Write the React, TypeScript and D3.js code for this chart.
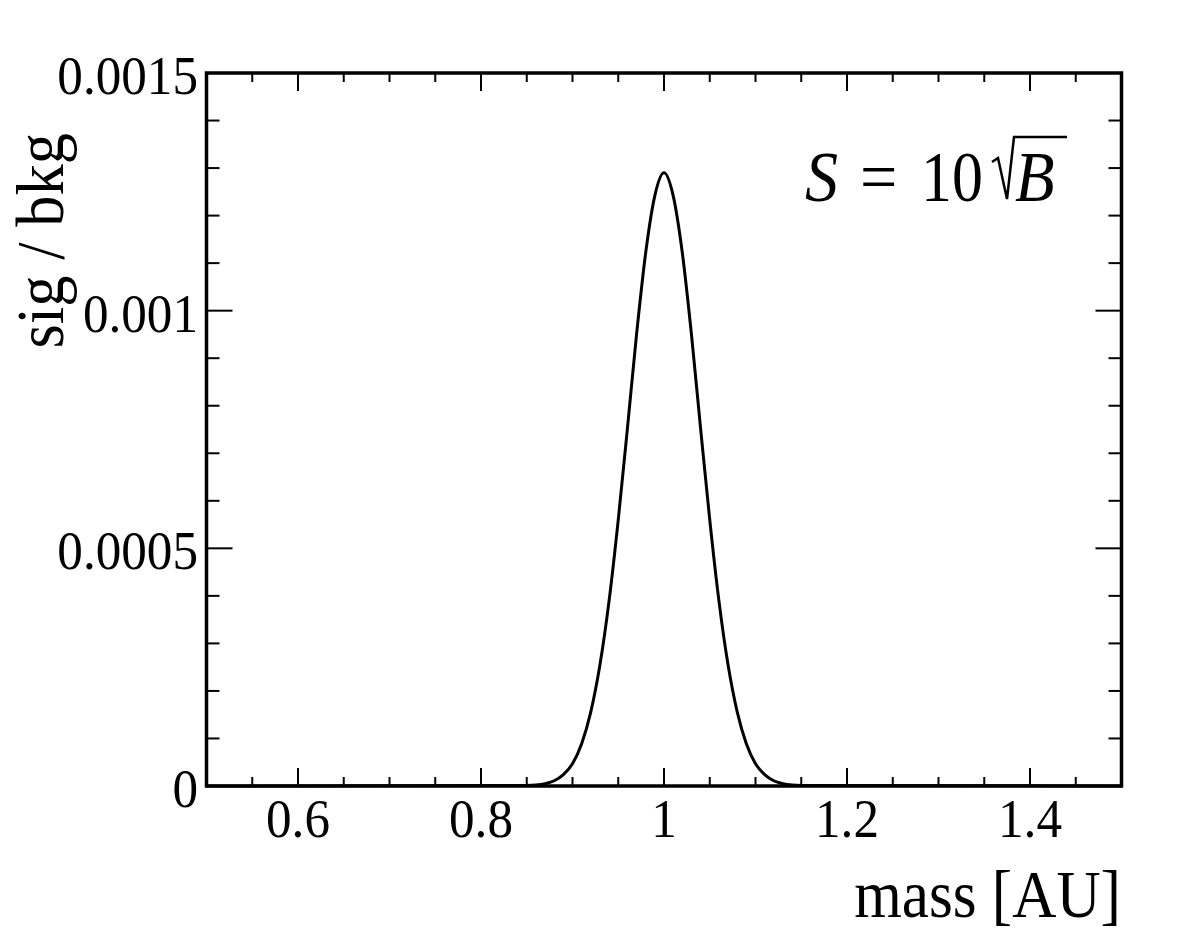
import * as d3 from "d3";

// signal / background ratio vs mass
const massValues = [
  0.5, 0.85, 0.86, 0.87, 0.88, 0.89, 0.9, 0.91, 0.92, 0.93, 0.94, 0.95, 0.96,
  0.97, 0.98, 0.99, 1.0, 1.01, 1.02, 1.03, 1.04, 1.05, 1.06, 1.07, 1.08, 1.09,
  1.1, 1.11, 1.12, 1.13, 1.14, 1.15, 1.5,
];
const ratioValues = [
  0, 0.000001, 0.000002, 0.000005, 0.000011, 0.000024, 0.000047, 0.000089,
  0.000156, 0.000255, 0.00039, 0.00056, 0.000752, 0.00095, 0.001122, 0.001242,
  0.00129, 0.001242, 0.001122, 0.00095, 0.000752, 0.00056, 0.00039, 0.000255,
  0.000156, 0.000089, 0.000047, 0.000024, 0.000011, 0.000005, 0.000002,
  0.000001, 0,
];

const xMajorTicks = [0.6, 0.8, 1.0, 1.2, 1.4];
const xTickLabels = ["0.6", "0.8", "1", "1.2", "1.4"];
const xMinorTicks = [
  0.55, 0.65, 0.7, 0.75, 0.85, 0.9, 0.95, 1.05, 1.1, 1.15, 1.25, 1.3, 1.35, 1.45,
];
const yMajorTicks = [0, 0.0005, 0.001, 0.0015];
const yTickLabels = ["0", "0.0005", "0.001", "0.0015"];
const yMinorTicks = [
  0.0001, 0.0002, 0.0003, 0.0004, 0.0006, 0.0007, 0.0008, 0.0009, 0.0011,
  0.0012, 0.0013, 0.0014,
];

const xTitle = "mass [AU]";
const yTitle = "sig / bkg";

const W = 1182;
const H = 938;
const left = 206.5;
const right = 1121.5;
const top = 73;
const bottom = 786;
const FONT = "'Liberation Serif', 'DejaVu Serif', serif";

const App = () => {
  const x = d3.scaleLinear().domain([0.5, 1.5]).range([left, right]);
  const y = d3.scaleLinear().domain([0, 0.0015]).range([bottom, top]);

  const points = massValues.map((m, i) => [m, ratioValues[i]] as [number, number]);
  const line = d3
    .line<[number, number]>()
    .x((d) => x(d[0]))
    .y((d) => y(d[1]))
    .curve(d3.curveMonotoneX);

  const xMajLen = 18;
  const xMinLen = 9;
  const yMajLen = 26;
  const yMinLen = 13;

  return (
    <svg
      width={W}
      height={H}
      style={{ position: "absolute", left: 0, top: 0, background: "#fff" }}
      fontFamily={FONT}
    >
      <rect x={0} y={0} width={W} height={H} fill="#fff" />

      {/* curve */}
      <path d={line(points) ?? ""} fill="none" stroke="#000" strokeWidth={3} />

      {/* ticks */}
      <g stroke="#000" strokeWidth={2}>
        {xMajorTicks.map((t) => (
          <g key={"xM" + t}>
            <line x1={x(t)} x2={x(t)} y1={bottom} y2={bottom - xMajLen} />
            <line x1={x(t)} x2={x(t)} y1={top} y2={top + xMajLen} />
          </g>
        ))}
        {xMinorTicks.map((t) => (
          <g key={"xm" + t}>
            <line x1={x(t)} x2={x(t)} y1={bottom} y2={bottom - xMinLen} />
            <line x1={x(t)} x2={x(t)} y1={top} y2={top + xMinLen} />
          </g>
        ))}
        {yMajorTicks.map((t) => (
          <g key={"yM" + t}>
            <line x1={left} x2={left + yMajLen} y1={y(t)} y2={y(t)} />
            <line x1={right} x2={right - yMajLen} y1={y(t)} y2={y(t)} />
          </g>
        ))}
        {yMinorTicks.map((t) => (
          <g key={"ym" + t}>
            <line x1={left} x2={left + yMinLen} y1={y(t)} y2={y(t)} />
            <line x1={right} x2={right - yMinLen} y1={y(t)} y2={y(t)} />
          </g>
        ))}
      </g>

      {/* frame */}
      <rect
        x={left}
        y={top}
        width={right - left}
        height={bottom - top}
        fill="none"
        stroke="#000"
        strokeWidth={3.5}
      />

      {/* tick labels */}
      <g fontSize={55} fill="#000">
        {xMajorTicks.map((t, i) => (
          <text
            key={"xl" + t}
            transform={`translate(${x(t)},837) scale(0.93,1)`}
            textAnchor="middle"
          >
            {xTickLabels[i]}
          </text>
        ))}
        {yMajorTicks.map((t, i) => (
          <text
            key={"yl" + t}
            transform={`translate(198,${y(t) + 21}) scale(0.93,1)`}
            textAnchor="end"
          >
            {yTickLabels[i]}
          </text>
        ))}
      </g>

      {/* axis titles */}
      <text
        transform={`translate(1121,917) scale(0.9,1)`}
        textAnchor="end"
        fontSize={68}
      >
        {xTitle}
      </text>
      <text
        transform={`translate(63,133) rotate(-90) scale(0.92,1)`}
        textAnchor="end"
        fontSize={68}
      >
        {yTitle}
      </text>

      {/* S = 10 sqrt(B) */}
      <g fontSize={72}>
        <text transform="translate(805,201) scale(0.92,1)" fontStyle="italic">
          S
        </text>
        <text transform="translate(860,201) scale(0.92,1)">=</text>
        <text transform="translate(921,201) scale(0.86,1)">10</text>
        <path
          d="M992,162 L998,158 L1007,199 L1014,137 L1067,137"
          fill="none"
          stroke="#000"
          strokeWidth={2.5}
          strokeLinejoin="miter"
        />
        <text transform="translate(1015,201) scale(0.9,1)" fontStyle="italic">
          B
        </text>
      </g>
    </svg>
  );
};

export default App;
